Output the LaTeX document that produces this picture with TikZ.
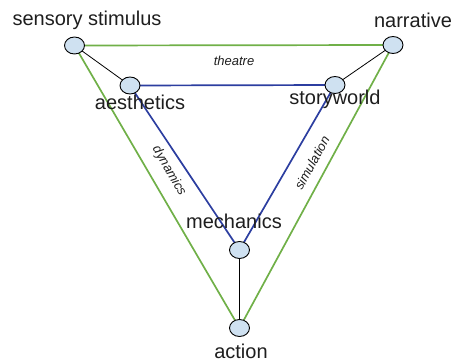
\documentclass[tikz,border=0pt]{standalone}
\usepackage{fontspec}
\setmainfont{Liberation Sans}
\usetikzlibrary{shapes.geometric,backgrounds}
\definecolor{gline}{RGB}{112,176,72}
\definecolor{bline}{RGB}{44,62,160}
\definecolor{vfill}{RGB}{207,225,241}
\definecolor{txt}{RGB}{30,30,30}
\tikzset{
  vert/.style={ellipse,draw=black,line width=0.9pt,fill=vfill,minimum width=20pt,minimum height=17pt,inner sep=0pt},
  lab/.style={text=txt,font=\fontsize{20}{23}\selectfont,inner sep=0pt},
  elab/.style={text=txt,font=\fontsize{13}{15}\selectfont\itshape,inner sep=0pt},
  gedge/.style={draw=gline,line width=1.7pt},
  bedge/.style={draw=bline,line width=1.7pt},
  kedge/.style={draw=black,line width=0.8pt}
}
\begin{document}
\begin{tikzpicture}[x=1pt,y=-1pt]
\useasboundingbox (0,0) rectangle (456,361);
\node[vert] (ss) at (74.5,45.5) {};
\node[vert] (na) at (393,45) {};
\node[vert] (ae) at (130,85.5) {};
\node[vert] (sw) at (335,85) {};
\node[vert] (me) at (239.5,250) {};
\node[vert] (ac) at (239.5,328) {};
\begin{scope}[on background layer]
\draw[gedge] (ss.center) -- (na.center);
\draw[gedge] (ss.center) -- (ac.center);
\draw[gedge] (na.center) -- (ac.center);
\draw[bedge] (ae.center) -- (sw.center);
\draw[bedge] (ae.center) -- (me.center);
\draw[bedge] (sw.center) -- (me.center);
\draw[kedge] (ss.center) -- (ae.center);
\draw[kedge] (na.center) -- (sw.center);
\draw[kedge] (me.center) -- (ac.center);
\end{scope}
\node[lab] (tss) at (87,20) {sensory stimulus};
\node[lab] (tna) at (413,20) {narrative};
\node[lab] (tae) at (140,102) {aesthetics};
\node[lab] (tsw) at (335,99) {storyworld};
\node[lab] (tme) at (234,221) {mechanics};
\node[lab] (tac) at (241,351) {action};
\node[elab] (lth) at (234,61) {theatre};
\node[elab,rotate=-60] (ldy) at (169,171) {dynamics};
\node[elab,rotate=61] (lsi) at (312,163) {simulation};
\end{tikzpicture}
\end{document}
